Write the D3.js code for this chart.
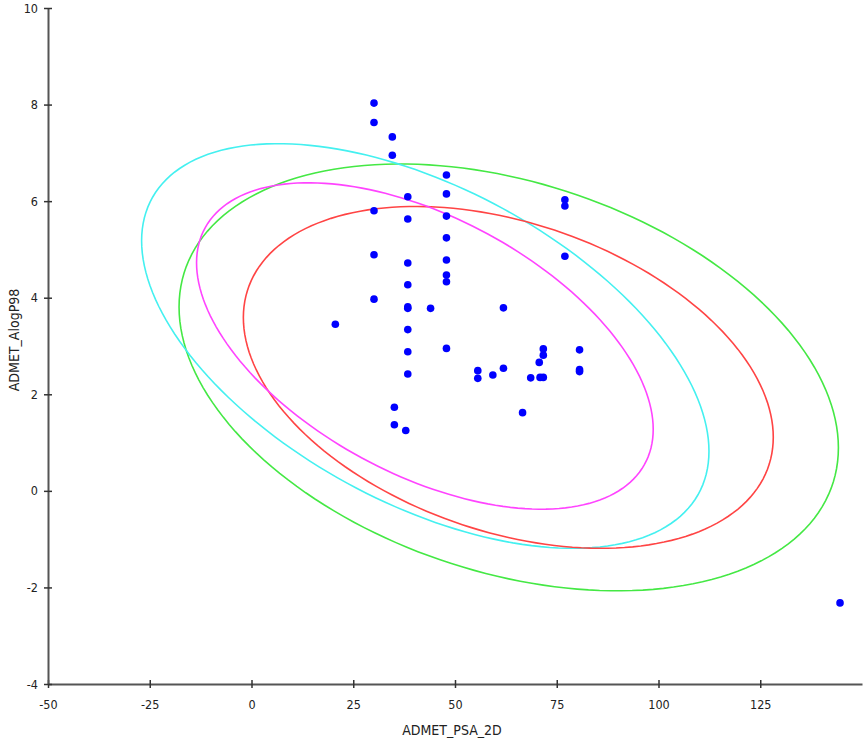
<!DOCTYPE html>
<meta charset="utf-8">
<script src="https://d3js.org/d3.v7.js"></script>
<style>
  body { margin: 0; background: #fff; }
  text { font-family: "DejaVu Sans Condensed", "DejaVu Sans", sans-serif; fill: #222; }
</style>
<div id="my_dataviz"></div>
<script>

// points
var psa = [30.1, 30.1, 34.6, 34.6, 47.9, 47.9, 38.4, 30.1, 38.4, 47.9, 47.9, 30.1, 38.4, 47.9, 47.9, 47.9,
           38.4, 30.1, 38.4, 38.4, 44.0, 20.6, 38.4, 38.4, 47.9, 38.4, 55.6, 55.6, 35.1, 35.1, 37.9,
           77.0, 77.0, 77.0, 61.9, 71.7, 71.7, 80.6, 80.6, 80.6, 59.3, 61.9, 70.7, 68.6, 70.9, 71.7, 66.6, 144.6];
var alogp = [8.03, 7.63, 7.33, 6.95, 6.54, 6.15, 6.09, 5.80, 5.63, 5.69, 5.24, 4.89, 4.72, 4.78, 4.47, 4.33,
             4.27, 3.97, 3.81, 3.78, 3.78, 3.45, 3.34, 2.88, 2.95, 2.42, 2.49, 2.33, 1.73, 1.37, 1.25,
             6.03, 5.90, 4.86, 3.79, 2.94, 2.81, 2.92, 2.51, 2.47, 2.40, 2.54, 2.66, 2.34, 2.35, 2.35, 1.62, -2.32];

// ellipses: centre, half-widths and correlation (data units)
var ellColors = ["#44e844", "#44f0f0", "#ff4444", "#ff44ff"];
var ellCx = [63.2, 42.7, 63.1, 42.6];
var ellCy = [2.35, 3.00, 2.35, 3.00];
var ellSx = [81.0, 69.7, 65.1, 56.1];
var ellSy = [4.42, 4.19, 3.54, 3.38];
var ellRho = [-0.33, -0.52, -0.35, -0.51];

var xTicks = [-50, -25, 0, 25, 50, 75, 100, 125];
var yTicks = [-4, -2, 0, 2, 4, 6, 8, 10];

var width = 865, height = 740;

var svg = d3.select("#my_dataviz")
  .append("svg")
    .attr("width", width)
    .attr("height", height);

var x = d3.scaleLinear().domain([-50, 150]).range([48, 862]);
var y = d3.scaleLinear().domain([-4, 10]).range([684, 8]);

// ellipses
var line = d3.line().x(d => x(d[0])).y(d => y(d[1]));
var ts = d3.range(0, 361, 2).map(d => d * Math.PI / 180);
ellColors.forEach(function(c, i) {
  var pts = ts.map(function(t) {
    return [ellCx[i] + ellSx[i] * Math.cos(t),
            ellCy[i] + ellSy[i] * (ellRho[i] * Math.cos(t) + Math.sqrt(1 - ellRho[i] * ellRho[i]) * Math.sin(t))];
  });
  svg.append("path")
    .attr("d", line(pts))
    .attr("fill", "none")
    .attr("stroke", c)
    .attr("stroke-width", 1.6);
});

// axes (plain hyphen for negatives, like the original)
var fmt = d => String(d);

var xAxis = svg.append("g")
  .attr("transform", "translate(0," + y(-4) + ")")
  .call(d3.axisBottom(x).tickValues(xTicks).tickFormat(fmt).tickSizeInner(4).tickSizeOuter(0).tickPadding(12));
xAxis.selectAll(".tick line").attr("y1", -4).attr("y2", 4);

var yAxis = svg.append("g")
  .attr("transform", "translate(" + x(-50) + ",0)")
  .call(d3.axisLeft(y).tickValues(yTicks).tickFormat(fmt).tickSizeInner(4).tickSizeOuter(0).tickPadding(6));
yAxis.selectAll(".tick line").attr("x1", -4).attr("x2", 4);

svg.selectAll(".domain").attr("stroke", "#555").attr("stroke-width", 2);
svg.selectAll(".tick line").attr("stroke", "#333").attr("stroke-width", 1.5);
svg.selectAll(".tick text").style("font-size", "12.5px").attr("fill", "#222");

// axis titles
svg.append("text")
  .attr("x", 452).attr("y", 735)
  .attr("text-anchor", "middle")
  .style("font-size", "14px")
  .text("ADMET_PSA_2D");

svg.append("text")
  .attr("transform", "translate(19,340) rotate(-90)")
  .attr("text-anchor", "middle")
  .style("font-size", "14px")
  .text("ADMET_AlogP98");

// dots
svg.append("g")
  .selectAll("circle")
  .data(psa)
  .enter()
  .append("circle")
    .attr("cx", d => x(d))
    .attr("cy", (d, i) => y(alogp[i]))
    .attr("r", 3.8)
    .style("fill", "#0000ff");

</script>
